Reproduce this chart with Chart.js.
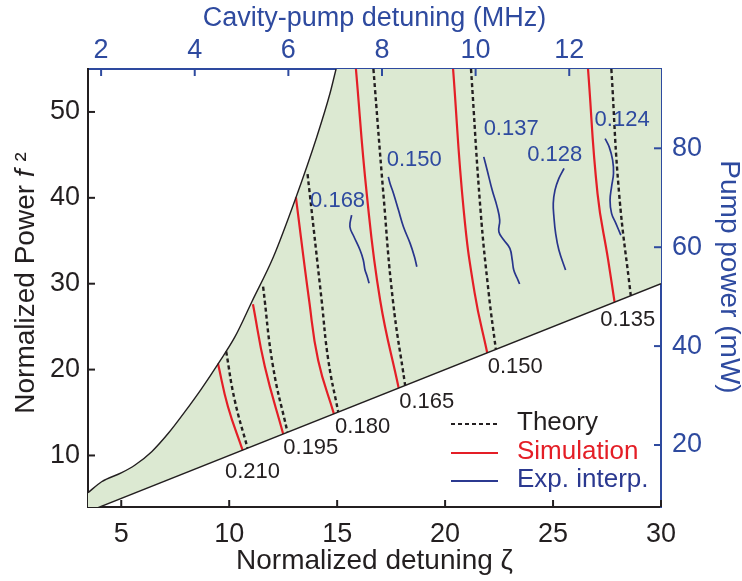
<!DOCTYPE html>
<html lang="en">
<head>
<meta charset="UTF-8">
<title>Soliton existence map</title>
<style>
  html, body { margin: 0; padding: 0; background: #fff; }
  #wrap { width: 742px; height: 581px; }
</style>
</head>
<body>
<div id="wrap"><canvas id="myChart" width="742" height="581"></canvas></div>
<script src="https://cdn.jsdelivr.net/npm/chart.js"></script>
<script>
// axis limits (bottom/left are the normalized units, top/right the lab units)
const zetaLimits = [3.46, 30];
const powerLimits = [4, 55];
const mhzLimits = [1.72, 13.96];
const pumpLimits = [7.46, 96.04];

const zetaTicks = [5, 10, 15, 20, 25, 30];
const powerTicks = [10, 20, 30, 40, 50];
const mhzTicks = [2, 4, 6, 8, 10, 12];
const pumpTicks = [20, 40, 60, 80];

// soliton existence boundaries [zeta, f^2]
const lowerEdge = [[3.46, 3.46], [30, 30]];
const upperEdge = [[3.46, 5.66], [4.09, 6.94], [5.02, 8.0], [5.64, 8.89], [6.41, 10.44], [7.18, 12.58],
  [7.95, 15.1], [8.73, 17.82], [9.5, 20.73], [10.27, 23.83], [11.05, 27.9], [12.05, 33.14],
  [13.05, 39.75], [14.06, 47.12], [14.67, 52.17], [14.95, 55], [15.26, 58]];
const regionCorner = [30, 58];

// theory (dashed) and simulation (red) curves, one per label
const bottomLabels = ['0.210', '0.195', '0.180', '0.165', '0.150', '0.135'];
const bottomLabelAt = [[11.08, 8.11], [13.78, 10.87], [16.18, 13.35], [19.15, 16.26], [23.25, 20.34], [28.46, 25.77]];

const theory = [
  [[9.86, 22.1], [10.25, 16.5], [10.85, 10.85]],
  [[11.57, 29.65], [12.03, 20.35], [12.7, 12.7]],
  [[13.63, 42.75], [14.28, 28.1], [14.59, 21.1], [15.05, 15.05]],
  [[16.68, 55], [17.14, 40.5], [17.58, 28.1], [18.15, 18.15]],
  [[21.2, 55], [21.64, 38.6], [22.02, 28.9], [22.35, 22.35]],
  [[27.7, 55], [28.06, 40.5], [28.6, 28.6]]
];
const simulation = [
  [[9.48, 20.7], [9.94, 15.7], [10.62, 10.62]],
  [[11.1, 27.6], [11.65, 20.35], [12.5, 12.5]],
  [[13.09, 40.05], [13.7, 28.1], [14.12, 21.1], [14.85, 14.85]],
  [[15.87, 55], [16.37, 40.5], [16.99, 28.1], [17.85, 17.85]],
  [[20.37, 55], [20.86, 38.6], [21.37, 28.9], [21.95, 21.95]],
  [[26.62, 55], [27.06, 40.5], [27.55, 32.8], [27.85, 27.85]]
];

// experimental interpolations
const expLabels = ['0.168', '0.150', '0.137', '0.128', '0.124'];
const expLabelAt = [[15.02, 39.65], [18.57, 44.4], [23.06, 48.05], [25.08, 44.99], [28.2, 49.12]];
const experiment = [
  [[15.67, 37.99], [15.59, 36.63], [15.78, 35.47], [16.06, 33.92], [16.21, 32.76], [16.29, 31.59], [16.37, 31.01], [16.48, 30.05]],
  [[17.37, 42.44], [17.45, 41.67], [17.61, 40.51], [17.84, 38.57], [18.07, 36.63], [18.38, 34.7], [18.58, 33.14], [18.69, 31.98]],
  [[21.79, 44.77], [21.95, 43.22], [22.18, 40.9], [22.41, 38.95], [22.53, 37.41], [22.49, 36.05], [22.72, 35.08],
   [23.0, 34.12], [23.11, 32.76], [23.18, 31.59], [23.34, 30.63], [23.45, 29.97]],
  [[25.51, 43.42], [25.27, 42.26], [25.09, 40.9], [25.01, 39.35], [25.04, 37.79], [25.12, 35.86], [25.27, 33.92], [25.58, 31.59]],
  [[27.41, 46.9], [27.6, 45.93], [27.76, 44.38], [27.8, 42.84], [27.71, 41.28], [27.64, 39.73], [27.71, 38.19], [27.91, 37.02], [28.14, 35.66]]
];

const ink = '#231f20';
const red = '#e41e26';
const navy = '#28358c';
const blue = '#2e4a9f';
const green = '#dce9d2';
const family = '"Liberation Sans", Arial, Helvetica, sans-serif';

Chart.defaults.font.family = family;

const pts = arr => arr.map(([x, y]) => ({ x, y }));

const datasets = [
  { data: pts(lowerEdge), borderColor: ink, borderWidth: 1.4 },
  { data: pts([...upperEdge, regionCorner]), borderColor: 'rgba(0,0,0,0)', borderWidth: 0,
    backgroundColor: green, fill: '-1', cubicInterpolationMode: 'monotone' },
  { data: pts(upperEdge), borderColor: ink, borderWidth: 1.4, cubicInterpolationMode: 'monotone' },
  ...experiment.map(e => ({ data: pts(e), borderColor: navy, borderWidth: 1.7, tension: 0.4 })),
  ...theory.map(t => ({ data: pts(t), borderColor: ink, borderWidth: 2.4, borderDash: [4, 3], tension: 0.45 })),
  ...simulation.map(s => ({ data: pts(s), borderColor: red, borderWidth: 2.2, tension: 0.45 }))
];

const legendItems = [
  { text: 'Theory', color: ink, dash: [4, 3], width: 2.2 },
  { text: 'Simulation', color: red, dash: [], width: 2.2 },
  { text: 'Exp. interp.', color: '#2b3990', dash: [], width: 2.2 }
];

const decorations = {
  id: 'decorations',
  afterDraw(chart) {
    const { ctx, chartArea: a, scales } = chart;
    ctx.save();

    // tick marks point into the plot
    const tickLen = 7;
    ctx.lineWidth = 2;
    for (const id of ['x2', 'y2', 'x', 'y']) {
      const s = scales[id];
      ctx.strokeStyle = s.options.border.color;
      for (const t of s.ticks) {
        const p = s.getPixelForValue(t.value);
        ctx.beginPath();
        if (id === 'x') { ctx.moveTo(p, a.bottom); ctx.lineTo(p, a.bottom - tickLen); }
        if (id === 'x2') { ctx.moveTo(p, a.top); ctx.lineTo(p, a.top + tickLen); }
        if (id === 'y') { ctx.moveTo(a.left, p); ctx.lineTo(a.left + tickLen, p); }
        if (id === 'y2') { ctx.moveTo(a.right, p); ctx.lineTo(a.right - tickLen, p); }
        ctx.stroke();
      }
    }

    // curve labels
    ctx.font = '22px ' + family;
    ctx.textAlign = 'center';
    ctx.textBaseline = 'middle';
    ctx.fillStyle = ink;
    bottomLabels.forEach((txt, i) => {
      ctx.fillText(txt, scales.x.getPixelForValue(bottomLabelAt[i][0]), scales.y.getPixelForValue(bottomLabelAt[i][1]));
    });
    ctx.fillStyle = blue;
    expLabels.forEach((txt, i) => {
      ctx.fillText(txt, scales.x.getPixelForValue(expLabelAt[i][0]), scales.y.getPixelForValue(expLabelAt[i][1]));
    });

    // legend, bottom right inside the plot
    ctx.font = '26px ' + family;
    ctx.textAlign = 'left';
    const rowY = [a.bottom - 83, a.bottom - 54, a.bottom - 26];
    legendItems.forEach((item, i) => {
      ctx.strokeStyle = item.color;
      ctx.lineWidth = item.width;
      ctx.setLineDash(item.dash);
      ctx.beginPath();
      ctx.moveTo(a.right - 210, rowY[i]);
      ctx.lineTo(a.right - 163, rowY[i]);
      ctx.stroke();
      ctx.fillStyle = item.color;
      ctx.fillText(item.text, a.right - 144, rowY[i] - 1);
    });
    ctx.setLineDash([]);

    // vertical axis titles
    ctx.textBaseline = 'middle';
    ctx.save();
    ctx.translate(a.left - 62, (a.top + a.bottom) / 2 - 5);
    ctx.rotate(-Math.PI / 2);
    const parts = [['Normalized Power ', ''], ['f', 'italic '], [' \u00b2', '']];
    let total = 0;
    parts.forEach(([t, st]) => { ctx.font = st + '28px ' + family; total += ctx.measureText(t).width; });
    let px = -total / 2;
    ctx.fillStyle = ink;
    parts.forEach(([t, st]) => {
      ctx.font = st + '28px ' + family;
      ctx.fillText(t, px, 0);
      px += ctx.measureText(t).width;
    });
    ctx.restore();

    ctx.save();
    ctx.translate(a.right + 68, (a.top + a.bottom) / 2 - 11);
    ctx.rotate(Math.PI / 2);
    ctx.font = '28px ' + family;
    ctx.textAlign = 'center';
    ctx.fillStyle = blue;
    ctx.fillText('Pump power (mW)', 0, 0);
    ctx.restore();

    ctx.restore();
  }
};

const setTicks = values => s => { s.ticks = values.map(v => ({ value: v })); };
const noGrid = { display: false, drawTicks: false, tickLength: 0 };

new Chart(document.getElementById('myChart'), {
  type: 'line',
  data: { datasets },
  options: {
    responsive: false,
    animation: false,
    devicePixelRatio: 1,
    events: [],
    layout: { padding: 0 },
    elements: { point: { radius: 0 } },
    plugins: {
      legend: { display: false },
      tooltip: { enabled: false },
      filler: { drawTime: 'beforeDatasetsDraw' }
    },
    scales: {
      x: {
        type: 'linear', position: 'bottom', min: zetaLimits[0], max: zetaLimits[1], z: 1,
        afterBuildTicks: setTicks(zetaTicks),
        afterFit: s => { s.height = 74; },
        grid: noGrid,
        border: { color: ink, width: 2 },
        ticks: { color: ink, font: { size: 27 }, padding: 11, maxRotation: 0, autoSkip: false },
        title: { display: true, text: 'Normalized detuning \u03b6', color: ink, font: { size: 28 }, padding: { top: 0, bottom: 3 } }
      },
      x2: {
        type: 'linear', position: 'top', min: mhzLimits[0], max: mhzLimits[1], z: 1,
        afterBuildTicks: setTicks(mhzTicks),
        afterFit: s => { s.height = 69; },
        grid: noGrid,
        border: { color: blue, width: 2 },
        ticks: { color: blue, font: { size: 27 }, padding: 2, maxRotation: 0, autoSkip: false },
        title: { display: true, text: 'Cavity-pump detuning (MHz)', color: blue, font: { size: 27 }, padding: { top: 2, bottom: 0 } }
      },
      y: {
        type: 'linear', position: 'left', min: powerLimits[0], max: powerLimits[1], z: 1,
        afterBuildTicks: setTicks(powerTicks),
        afterFit: s => { s.width = 88; },
        grid: noGrid,
        border: { color: ink, width: 2 },
        ticks: { color: ink, font: { size: 27 }, padding: 8, autoSkip: false }
      },
      y2: {
        type: 'linear', position: 'right', min: pumpLimits[0], max: pumpLimits[1], z: 1,
        afterBuildTicks: setTicks(pumpTicks),
        afterFit: s => { s.width = 81; },
        grid: noGrid,
        border: { color: blue, width: 2 },
        ticks: { color: blue, font: { size: 27 }, padding: 11, autoSkip: false }
      }
    }
  },
  plugins: [decorations]
});
</script>
</body>
</html>
